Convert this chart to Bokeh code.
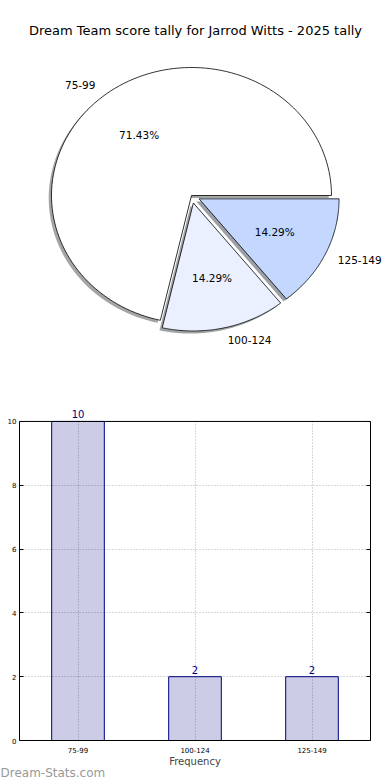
import numpy as np
from bokeh.plotting import figure
from bokeh.models import (Range1d, FactorRange, Label, LabelSet, ColumnDataSource,
                          FixedTicker, LinearAxis, Span, Title)
from bokeh.core.properties import value
from bokeh.embed import file_html
from bokeh.resources import INLINE

title_text = "Dream Team score tally for Jarrod Witts - 2025 tally"
categories = ["75-99", "100-124", "125-149"]
counts = [10, 2, 2]
y_ticks = [0, 2, 4, 6, 8, 10]
pie_colors = ["#ffffff", "#eaf0ff", "#c4d8ff"]
explode = [0.0, 0.06, 0.06]

FONT = "DejaVu Sans"
W = 390

# ---------------- Pie ----------------
H1 = 400
cx, cy = 191, 195      # pie centre in figure pixels (from left, from top)
sx, sy = 140, 128      # pixels per unit radius
p1 = figure(width=W, height=H1, output_backend="svg", toolbar_location=None,
            x_range=Range1d(-cx / sx, (W - cx) / sx),
            y_range=Range1d(-(H1 - cy) / sy, cy / sy),
            x_axis_location=None, y_axis_location=None,
            min_border=0, outline_line_color=None, title=None)
p1.grid.visible = False

total = float(sum(counts))
start = 0.0
lab_x, lab_y, lab_t, lab_a = [], [], [], []
pct_x, pct_y, pct_t = [], [], []
for i, c in enumerate(counts):
    frac = c / total
    t1, t2 = start, start + frac * 2 * np.pi
    mid = (t1 + t2) / 2
    ox, oy = explode[i] * np.cos(mid), explode[i] * np.sin(mid)
    ts = np.linspace(t1, t2, 120)
    xs = np.concatenate([[ox], ox + np.cos(ts), [ox]])
    ys = np.concatenate([[oy], oy + np.sin(ts), [oy]])
    rgb = [int(pie_colors[i][k:k + 2], 16) for k in (1, 3, 5)]
    shadow = "#%02x%02x%02x" % tuple(int(0.3 * v) for v in rgb)
    p1.patch(xs - 0.02, ys - 0.02, fill_color=shadow, fill_alpha=0.5, line_color=None)
    p1.patch(xs, ys, fill_color=pie_colors[i], line_color="black", line_width=0.8)
    lx, ly = ox + 1.1 * np.cos(mid), oy + 1.1 * np.sin(mid)
    lab_x.append(lx); lab_y.append(ly); lab_t.append(categories[i])
    lab_a.append("left" if lx > 0 else "right")
    pct_x.append(ox + 0.6 * np.cos(mid)); pct_y.append(oy + 0.6 * np.sin(mid))
    pct_t.append("%.2f%%" % (frac * 100))
    start = t2

p1.text(x=lab_x, y=lab_y, text=lab_t, text_align=lab_a, text_baseline="middle",
        text_font=value(FONT), text_font_size="10.5px", text_color="black")
p1.text(x=pct_x, y=pct_y, text=pct_t, text_align="center", text_baseline="middle",
        text_font=value(FONT), text_font_size="10.5px", text_color="black")
p1.add_layout(Label(x=(195 - cx) / sx, y=(cy - 30) / sy, text=title_text,
                    text_align="center", text_baseline="middle",
                    text_font=FONT, text_font_size="13px", text_color="black"))

# ---------------- Bar ----------------
H2 = 380
p2 = figure(width=W, height=H2, output_backend="svg", toolbar_location=None,
            x_range=FactorRange(factors=categories, range_padding=0),
            y_range=Range1d(0, 10.5),
            min_border_top=5, min_border_right=20, min_border_left=19,
            min_border_bottom=40, title=None)
p2.outline_line_color = None

src = ColumnDataSource(dict(cat=categories, count=counts, lab=[str(c) for c in counts]))
p2.vbar(x="cat", top="count", width=0.45, source=src, fill_color="navy",
        fill_alpha=0.2, line_color="navy", line_width=1)
p2.add_layout(LabelSet(x="cat", y="count", text="lab", source=src, y_offset=3,
                       text_align="center", text_baseline="bottom",
                       text_font=value(FONT), text_font_size="10px", text_color="navy"))

# frame: top line at the last y tick, right border as an unlabeled axis
p2.add_layout(Span(location=y_ticks[-1], dimension="width", line_color="black", line_width=1))
right_ax = LinearAxis(ticker=FixedTicker(ticks=y_ticks), bounds=(y_ticks[0], y_ticks[-1]),
                      major_label_text_alpha=0, major_label_text_font_size="1px",
                      major_tick_in=4, major_tick_out=0, minor_tick_line_color=None,
                      axis_line_color="black")
p2.add_layout(right_ax, "right")

p2.yaxis[0].ticker = FixedTicker(ticks=y_ticks)
p2.yaxis[0].bounds = (y_ticks[0], y_ticks[-1])
for ax in (p2.xaxis[0], p2.yaxis[0]):
    ax.major_label_text_font = FONT
    ax.major_label_text_font_size = "7px"
    ax.major_label_text_color = "black"
    ax.minor_tick_line_color = None
    ax.axis_line_color = "black"
    ax.major_tick_in = 4
    ax.major_tick_out = 0
    ax.major_label_standoff = 3
p2.xaxis[0].major_tick_in = 0
p2.xaxis[0].major_label_standoff = 6
p2.xaxis[0].axis_label = "Frequency"
p2.xaxis[0].axis_label_text_font = FONT
p2.xaxis[0].axis_label_text_font_size = "10px"
p2.xaxis[0].axis_label_text_font_style = "normal"
p2.xaxis[0].axis_label_standoff = 0
for g in (p2.xgrid, p2.ygrid):
    g.grid_line_color = "#b0b0b0"
    g.grid_line_dash = "1 2"
    g.grid_line_width = 1
p2.xgrid.cross_bounds = (y_ticks[0], y_ticks[-1])

p2.add_layout(Title(text="Dream-Stats.com", align="left", offset=-19, standoff=-11,
                    text_color="#999999", text_font=FONT, text_font_size="12px",
                    text_font_style="normal"), "below")

p = [p1, p2]
open("out.html", "w").write(file_html(p, INLINE))
